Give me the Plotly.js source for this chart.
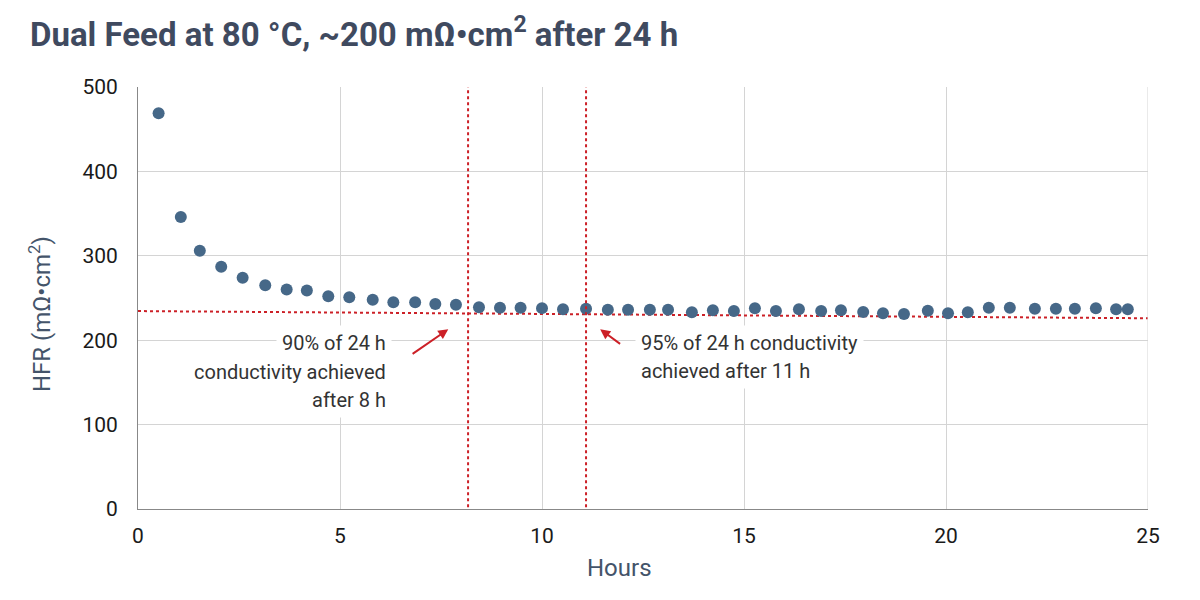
<!DOCTYPE html>
<html>
<head>
<meta charset="utf-8">
<script src="https://cdn.plot.ly/plotly-3.0.1.min.js"></script>
<style>
  body { margin: 0; background: #fff; }
  #chart { width: 1200px; height: 600px; }
</style>
</head>
<body>
<div id="chart"></div>
<script>
// HFR readings over time (hours, mOhm*cm2)
let hours = [0.51, 1.06, 1.53, 2.06, 2.59, 3.15, 3.68, 4.18, 4.71, 5.23, 5.81, 6.32, 6.86, 7.36, 7.87,
    8.44, 8.96, 9.47, 10.0, 10.52, 11.09, 11.63, 12.13, 12.67, 13.12, 13.71, 14.23, 14.75, 15.27, 15.79,
    16.36, 16.91, 17.4, 17.95, 18.44, 18.96, 19.55, 20.05, 20.54, 21.06, 21.58, 22.2, 22.72, 23.19,
    23.71, 24.21, 24.5]
let hfr = [469, 346, 306, 287, 274, 265, 260, 259, 252, 251, 248, 245, 245, 243, 242,
    239, 238.5, 238.5, 238, 236.6, 237.3, 236, 236, 236, 236, 233, 235.4, 234.6, 237.8, 234.6,
    236.6, 234.6, 235.4, 233.4, 232, 231, 235, 232, 233, 238.5, 238.5, 237.3, 237.3, 237.3,
    237.8, 236.6, 236.6]

// dotted trend line (value at 0 h and 25 h)
let trendX = [0, 25]
let trendY = [234.5, 226]

// hours at which 90% / 95% of the 24 h conductivity was reached
let milestones = [8.17, 11.09]

let red = "#cc2027"
let slate = "#44546a"

let traces = [
    {
        x: trendX,
        y: trendY,
        mode: "lines",
        type: "scatter",
        line: { color: red, width: 2, dash: "dot" },
        hoverinfo: "skip"
    },
    {
        x: hours,
        y: hfr,
        mode: "markers",
        type: "scatter",
        marker: { color: "#466888", size: 12 }
    }
]

let shapes = milestones.map(function (h) {
    return {
        type: "line", xref: "x", yref: "y",
        x0: h, x1: h, y0: -5, y1: 500,
        line: { color: red, width: 2, dash: "dot" }
    }
})

// right-hand border of the plot (grid at 25 h)
shapes.push({
    type: "line", xref: "x", yref: "paper", x0: 25, x1: 25, y0: 0, y1: 1,
    line: { color: "#d4d4d4", width: 1 }
})

let noteFont = { family: "Roboto, sans-serif", size: 20, color: "#333333" }

function note(text, x, y, anchor) {
    return {
        text: text, x: x, y: y, xref: "x", yref: "y",
        xanchor: anchor, yanchor: "middle",
        showarrow: false, font: noteFont,
        bgcolor: "#ffffff", borderpad: 5
    }
}

function arrow(x, y, ax, ay) {
    return {
        text: "", x: x, y: y, ax: ax, ay: ay,
        xref: "x", yref: "y", axref: "x", ayref: "y",
        showarrow: true, arrowhead: 2, arrowsize: 1, arrowwidth: 2,
        arrowcolor: red
    }
}

let annotations = [
    note("90% of 24 h", 6.29, 196.3, "right"),
    note("conductivity achieved", 6.29, 162.7, "right"),
    note("after 8 h", 6.29, 129.1, "right"),
    note("95% of 24 h conductivity", 12.3, 196.3, "left"),
    note("achieved after 11 h", 12.3, 164, "left"),
    arrow(7.68, 213, 6.76, 182.5),
    arrow(11.44, 213, 11.97, 194.3),
    // axis titles
    {
        text: "Hours", xref: "paper", yref: "paper", x: 0.477, y: -0.14,
        xanchor: "center", yanchor: "middle", showarrow: false,
        font: { family: "Roboto, sans-serif", size: 24, color: slate }
    },
    {
        text: "HFR (mΩ•cm<sup>2</sup>)", xref: "paper", yref: "paper", x: -0.097, y: 0.462,
        xanchor: "center", yanchor: "middle", showarrow: false, textangle: -90,
        font: { family: "Roboto, sans-serif", size: 24, color: slate }
    }
]

let layout = {
    width: 1200,
    height: 600,
    margin: { l: 138, r: 52, t: 87, b: 91 },
    paper_bgcolor: "#ffffff",
    plot_bgcolor: "#ffffff",
    showlegend: false,
    font: { family: "Roboto, sans-serif" },
    title: {
        text: "Dual Feed at 80 °C, ~200 mΩ•cm<sup>2</sup> after 24 h",
        x: 0.025, xref: "container", xanchor: "left",
        y: 0.942, yanchor: "middle",
        font: { family: "Roboto, sans-serif", size: 33, color: "#3f4a5f", weight: "bold" }
    },
    xaxis: {
        range: [0, 25],
        dtick: 5,
        showgrid: true,
        gridcolor: "#d4d4d4",
        gridwidth: 1,
        showline: true,
        linecolor: "#888888",
        zeroline: false,
        ticks: "",
        ticklabelstandoff: 8,
        tickfont: { size: 21, color: "#1a1a1a" }
    },
    yaxis: {
        range: [0, 500],
        dtick: 100,
        showgrid: true,
        gridcolor: "#d4d4d4",
        gridwidth: 1,
        showline: true,
        linecolor: "#888888",
        zeroline: false,
        ticks: "",
        ticklabelstandoff: 15,
        tickfont: { size: 21, color: "#1a1a1a" }
    },
    shapes: shapes,
    annotations: annotations
}

Plotly.newPlot("chart", traces, layout, { displayModeBar: false, staticPlot: true })
</script>
</body>
</html>
